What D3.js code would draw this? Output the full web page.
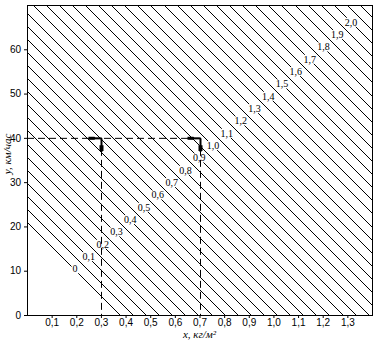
<!DOCTYPE html>
<html>
<head>
<meta charset="utf-8">
<script src="https://cdn.jsdelivr.net/npm/d3@7"></script>
<style>
  body { margin: 0; background: #fff; }
  svg { display: block; font-family: "Liberation Serif", "DejaVu Serif", serif; }
  .tick text { font-size: 10px; }
</style>
</head>
<body>
<svg id="chart" width="374" height="340"></svg>
<script>
// tick values on both axes
let xTicks = [0.1, 0.2, 0.3, 0.4, 0.5, 0.6, 0.7, 0.8, 0.9, 1.0, 1.1, 1.2, 1.3];
let yTicks = [0, 10, 20, 30, 40, 50, 60];
// labelled isolines of the nomogram (one unlabelled line between each pair)
let isoValues = [0, 0.1, 0.2, 0.3, 0.4, 0.5, 0.6, 0.7, 0.8, 0.9, 1.0,
                 1.1, 1.2, 1.3, 1.4, 1.5, 1.6, 1.7, 1.8, 1.9, 2.0];
let isoExtra = [2.05, 2.1];
// x where each isoline meets y = 0: value 0 and value 2.0
let isoFoot = [0.377, 2.503];
// where the labels 0 and 2,0 sit (x, y)
let labelStart = [0.195, 10.4];
let labelEnd = [1.315, 66.1];
// reading example: y = 40 km/h, x = 0.3 and 0.7
let readY = 40;
let readX = [0.3, 0.7];

let margin = { top: 5, right: 2, bottom: 25, left: 27 };
let svg = d3.select("#chart");
let width = 374 - margin.left - margin.right;
let height = 340 - margin.top - margin.bottom;

let x = d3.scaleLinear().domain([0, 1.4]).range([0, width]);
let y = d3.scaleLinear().domain([0, 70]).range([height, 0]);
let fmt = function (d) { return d3.format(".1f")(d).replace(".", ","); };

let g = svg.append("g").attr("transform", "translate(" + margin.left + "," + margin.top + ")");

g.append("clipPath").attr("id", "plot")
  .append("rect").attr("width", width).attr("height", height);

//all isolines, the labelled ones and the ones between them
let lines = [];
isoValues.forEach(function (v) { lines.push(v); if (v < 2.0) lines.push(v + 0.05); });
lines = lines.concat(isoExtra);

let foot = d3.scaleLinear().domain([0, 2.0]).range(isoFoot);
let hatch = g.append("g").attr("clip-path", "url(#plot)");
hatch.selectAll("line").data(lines).enter().append("line")
  .attr("x1", function (v) { return Math.round(x(foot(v))) + 0.5; })
  .attr("y1", y(0) + 0.5)
  .attr("x2", function (v) { return Math.round(x(foot(v))) + 0.5 - (height + 20); })
  .attr("y2", y(0) + 0.5 - (height + 20))
  .attr("stroke", "#000")
  .attr("stroke-width", 1)
  .attr("shape-rendering", "crispEdges");

//isoline labels with white boxes that cut the lines
let lx = d3.scaleLinear().domain([0, 2.0]).range([labelStart[0], labelEnd[0]]);
let ly = d3.scaleLinear().domain([0, 2.0]).range([labelStart[1], labelEnd[1]]);
let labels = g.append("g").selectAll("g").data(isoValues).enter().append("g")
  .attr("transform", function (v) { return "translate(" + x(lx(v)) + "," + y(ly(v)) + ")"; });
labels.append("rect").attr("fill", "#fff");
labels.append("text")
  .attr("text-anchor", "middle")
  .attr("dy", "0.35em")
  .attr("fill", "#000")
  .style("font-size", "10px")
  .text(function (v) { return v === 0 ? "0" : fmt(v); });
labels.each(function () {
  let gl = d3.select(this);
  let b = gl.select("text").node().getBBox();
  gl.select("rect").attr("x", b.x - 1).attr("y", b.y + 1).attr("width", b.width + 2).attr("height", b.height - 2);
});

//dashed reading lines
g.append("line")
  .attr("x1", x(0)).attr("x2", x(d3.max(readX)))
  .attr("y1", y(readY) + 0.5).attr("y2", y(readY) + 0.5)
  .attr("stroke", "#000").attr("stroke-dasharray", "7,4");
g.selectAll(".vdash").data(readX).enter().append("line")
  .attr("class", "vdash")
  .attr("x1", function (d) { return Math.round(x(d)) + 0.5; })
  .attr("x2", function (d) { return Math.round(x(d)) + 0.5; })
  .attr("y1", y(readY)).attr("y2", y(0))
  .attr("stroke", "#000").attr("stroke-dasharray", "7,4");

//arrow markers at each reading point
let marks = g.selectAll(".mark").data(readX).enter().append("g")
  .attr("class", "mark")
  .attr("transform", function (d) { return "translate(" + (Math.round(x(d)) + 0.5) + "," + (y(readY) + 0.5) + ")"; });
marks.append("path").attr("d", "M-12,0H0").attr("stroke", "#000").attr("stroke-width", 2);
marks.append("path").attr("d", "M-13,-1.5H-7L-6,0L-7,1.5H-13Z").attr("fill", "#000");
marks.append("path").attr("d", "M0,0V13").attr("stroke", "#000").attr("stroke-width", 2);
marks.append("path").attr("d", "M-2,7H2V12L0,14L-2,12Z").attr("fill", "#000");

//axes
g.append("g").attr("class", "xaxis")
  .attr("transform", "translate(0," + height + ")")
  .call(d3.axisBottom(x).tickValues(xTicks).tickSize(3).tickPadding(1).tickFormat(fmt));
g.append("g").attr("class", "yaxis")
  .call(d3.axisLeft(y).tickValues(yTicks).tickSize(3).tickPadding(3).tickFormat(d3.format("d")));
g.selectAll(".domain").remove();
g.selectAll(".tick text").attr("fill", "#000");

//frame
g.append("rect").attr("width", width).attr("height", height)
  .attr("fill", "none").attr("stroke", "#000").attr("shape-rendering", "crispEdges");

//axis names
svg.append("text")
  .attr("x", margin.left + width / 2)
  .attr("y", 338)
  .attr("text-anchor", "middle")
  .style("font-size", "11px").style("font-style", "italic")
  .text("x, кг/м²");
svg.append("text")
  .attr("transform", "translate(11,154) rotate(-90)")
  .attr("text-anchor", "middle")
  .style("font-size", "11px").style("font-style", "italic")
  .text("y, км/час");
</script>
</body>
</html>
